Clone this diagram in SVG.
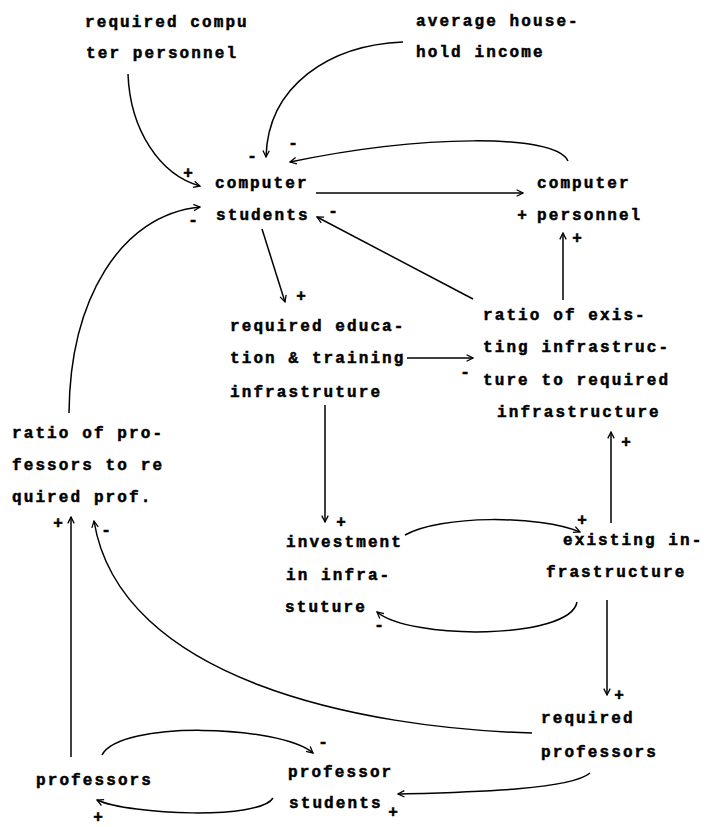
<svg xmlns="http://www.w3.org/2000/svg" width="704" height="827" viewBox="0 0 704 827">
<style>
text{font-family:"Liberation Mono","DejaVu Sans Mono",monospace;font-size:16px;font-weight:bold;fill:#000;stroke:#000;stroke-width:0.5;letter-spacing:2.1px}
.s{text-anchor:middle;letter-spacing:0}
.c{fill:none;stroke:#000;stroke-width:1.5;marker-end:url(#ah)}
</style>
<defs>
<marker id="ah" viewBox="0 0 10 10" refX="9" refY="5" markerWidth="8" markerHeight="8" markerUnits="userSpaceOnUse" orient="auto"><path d="M1,1 L9,5 L1,9" fill="none" stroke="#000" stroke-width="1.6"/></marker>
</defs>
<rect width="704" height="827" fill="#fff"/>
<g id="n-req-comp-personnel"><text x="85" y="27">required compu</text><text x="86" y="58">ter personnel</text></g>
<g id="n-avg-income"><text x="416" y="26">average house-</text><text x="416" y="57">hold income</text></g>
<g id="n-comp-students"><text x="215" y="188">computer</text><text x="216" y="220">students</text></g>
<g id="n-comp-personnel"><text x="537" y="188">computer</text><text x="537" y="220">personnel</text></g>
<g id="n-req-edu"><text x="230" y="331">required educa-</text><text x="230" y="363">tion &amp; training</text><text x="230" y="397">infrastruture</text></g>
<g id="n-ratio-infra"><text x="483" y="320">ratio of exis-</text><text x="483" y="352">ting infrastruc-</text><text x="483" y="385">ture to required</text><text x="497" y="417">infrastructure</text></g>
<g id="n-ratio-prof"><text x="12" y="438">ratio of pro-</text><text x="12" y="470">fessors to re</text><text x="12" y="502">quired prof.</text></g>
<g id="n-investment"><text x="286" y="547">investment</text><text x="286" y="580">in infra-</text><text x="285" y="612">stuture</text></g>
<g id="n-existing-infra"><text x="563" y="545">existing in-</text><text x="546" y="577">frastructure</text></g>
<g id="n-req-prof"><text x="541" y="723">required</text><text x="541" y="757">professors</text></g>
<g id="n-prof-students"><text x="288" y="777">professor</text><text x="289" y="808">students</text></g>
<g id="n-professors"><text x="36" y="785">professors</text></g>
<g id="connectors">
<path class="c" d="M128,74 C130,130 160,175 200,186"/>
<path class="c" d="M403,42 C330,45 268,85 266,157"/>
<path class="c" d="M568,161 C555,133 420,135 290,162"/>
<path class="c" d="M316,193 L523,193"/>
<path class="c" d="M473,299 L317,217"/>
<path class="c" d="M563,300 L563,233"/>
<path class="c" d="M262,229 L285,302"/>
<path class="c" d="M407,358 L473,358"/>
<path class="c" d="M325,405 L325,522"/>
<path class="c" d="M405,535 C440,515 540,515 580,532"/>
<path class="c" d="M577,602 C570,640 410,640 377,612"/>
<path class="c" d="M611,523 L611,432"/>
<path class="c" d="M607,600 L607,695"/>
<path class="c" d="M532,733 C360,728 120,680 94,521"/>
<path class="c" d="M71,757 L71,517"/>
<path class="c" d="M69,413 C70,300 120,215 200,207"/>
<path class="c" d="M102,755 C120,720 280,725 313,753"/>
<path class="c" d="M273,798 C260,820 130,815 97,800"/>
<path class="c" d="M590,773 C570,790 470,792 398,794"/>
<text class="s" x="188" y="178">+</text>
<text class="s" x="252" y="161">-</text>
<text class="s" x="293" y="148">-</text>
<text class="s" x="333" y="216">-</text>
<text class="s" x="522" y="220">+</text>
<text class="s" x="577" y="243">+</text>
<text class="s" x="301" y="301">+</text>
<text class="s" x="465" y="377">-</text>
<text class="s" x="341" y="527">+</text>
<text class="s" x="582" y="525">+</text>
<text class="s" x="379" y="630">-</text>
<text class="s" x="626" y="447">+</text>
<text class="s" x="619" y="700">+</text>
<text class="s" x="106" y="535">-</text>
<text class="s" x="58" y="528">+</text>
<text class="s" x="193" y="225">-</text>
<text class="s" x="323" y="747">-</text>
<text class="s" x="98" y="822">+</text>
<text class="s" x="393" y="817">+</text>
</g>
</svg>
